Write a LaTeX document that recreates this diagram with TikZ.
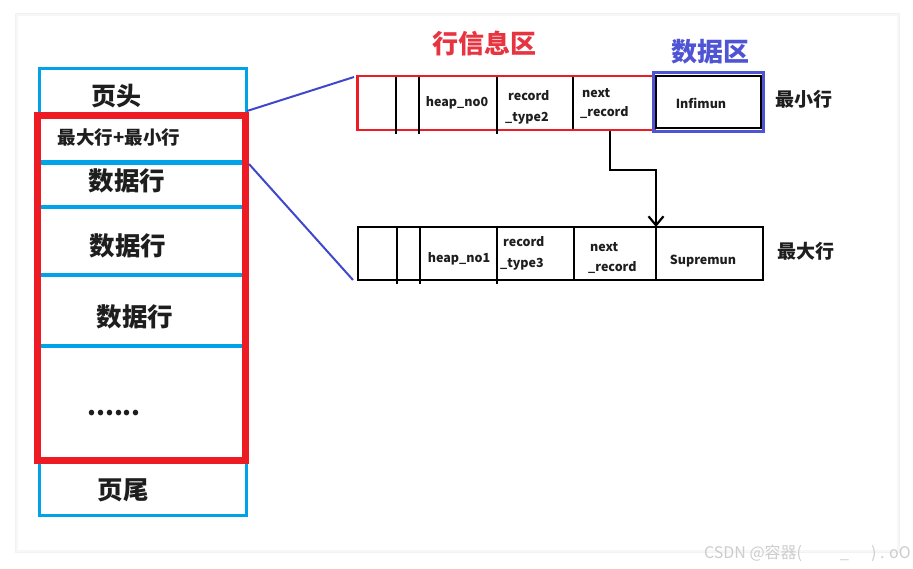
\documentclass[tikz,border=0pt]{standalone}
\usepackage{fontspec}
\setmainfont{Noto Sans CJK SC}
\usetikzlibrary{arrows.meta}
\definecolor{cyanb}{RGB}{0,162,232}
\definecolor{redb}{RGB}{237,28,36}
\definecolor{linkb}{RGB}{63,72,204}
\definecolor{titr}{RGB}{232,52,64}
\definecolor{titb}{RGB}{78,84,212}
\definecolor{ink}{RGB}{30,30,30}
\definecolor{wm}{RGB}{205,205,205}
\tikzset{
  cjkbig/.style={font=\fontsize{25.5}{26}\selectfont\bfseries, text=ink, inner sep=0pt},
  cjkmid/.style={font=\fontsize{19}{19}\selectfont\bfseries, text=ink, inner sep=0pt},
  celltxt/.style={font=\fontsize{12.5}{20}\selectfont\bfseries, text=ink, inner sep=0pt, align=left},
  sepline/.style={cyanb, line width=3.5pt},
  cellline/.style={black, line width=2pt},
  rowbox/.style={draw=black, line width=2.2pt, inner sep=0pt, outer sep=0pt},
  linkline/.style={linkb, line width=2pt},
}
\begin{document}
\begin{tikzpicture}[x=1pt,y=-1pt]
\useasboundingbox (0,0) rectangle (913,568);
\fill[white] (0,0) rectangle (913,568);
\fill[black!5] (15,13) rectangle (900,553);
\fill[black!3] (16,14) rectangle (899,552);
\fill[white] (18,16) rectangle (897,550);

% ---------- left page column ----------
\node[draw=cyanb, line width=3pt, inner sep=0pt, outer sep=0pt, minimum width=207pt, minimum height=447pt] (page) at (142.5,291.5) {};
\draw[sepline, line width=5pt] (39,162) -- (246,162);
\draw[sepline] (39,207) -- (246,207);
\draw[sepline] (39,275) -- (246,275);
\draw[sepline] (39,346) -- (246,346);
\node[draw=redb, line width=7pt, inner sep=0pt, outer sep=0pt, minimum width=208pt, minimum height=345pt] (mid) at (141,287.5) {};

\node[cjkbig, font=\fontsize{25}{25}\selectfont\bfseries] (head) at (116,96) {页头};
\node[cjkmid, font=\fontsize{18.5}{19}\selectfont\bfseries] (maxmin) at (119,137) {最大行+最小行};
\node[cjkbig] (d1) at (127,181) {数据行};
\node[cjkbig] (d2) at (128,246) {数据行};
\node[cjkbig] (d3) at (135,317) {数据行};
\node[cjkbig] (dots) at (114,413) {......};
\node[cjkbig] (tail) at (123,490) {页尾};

% ---------- titles ----------
\node[font=\fontsize{26}{26}\selectfont\bfseries, text=titr, inner sep=0pt] (t1) at (484,44) {行信息区};
\node[font=\fontsize{26}{26}\selectfont\bfseries, text=titb, inner sep=0pt] (t2) at (710,52) {数据区};

% ---------- top record (minimum row) ----------
\node[draw=redb, line width=2.2pt, inner sep=0pt, outer sep=0pt, minimum width=297pt, minimum height=54pt] (info1) at (506,103) {};
\foreach \x in {396,419,497} \draw[cellline] (\x,77) -- (\x,134);
\draw[cellline] (573,77) -- (573,129);
\node[draw=titb, line width=2.6pt, inner sep=0pt, outer sep=0pt, minimum width=110pt, minimum height=59pt] (data1) at (708.5,102) {};
\node[rowbox, minimum width=105pt, minimum height=52pt] (inf) at (708.5,102) {};
\node[celltxt] (h0) at (457,103) {heap\_no0};
\node[celltxt, anchor=west] (rt2a) at (508,96) {record};
\node[celltxt, anchor=west] (rt2b) at (505,118) {\_type2};
\node[celltxt, anchor=west] (nx1a) at (582,93) {next};
\node[celltxt, anchor=west] (nx1b) at (580,113) {\_record};
\node[celltxt] (infimun) at (701,103) {Infimun};
\node[cjkmid, anchor=west] (minrow) at (775,99) {最小行};

% ---------- bottom record (maximum row) ----------
\node[rowbox, minimum width=405pt, minimum height=53pt] (row2) at (560.5,253.5) {};
\foreach \x in {397,420,497} \draw[cellline] (\x,227) -- (\x,284);
\draw[cellline] (574,227) -- (574,280);
\node[rowbox, minimum width=107pt, minimum height=53pt] (sup) at (709.5,253.5) {};
\node[celltxt] (h1) at (459,259) {heap\_no1};
\node[celltxt, anchor=west] (rt3a) at (503,242) {record};
\node[celltxt, anchor=west] (rt3b) at (500,264) {\_type3};
\node[celltxt, anchor=west] (nx2a) at (590,247) {next};
\node[celltxt, anchor=west] (nx2b) at (588,268) {\_record};
\node[celltxt] (supremun) at (703,261) {Supremun};
\node[cjkmid, anchor=west] (maxrow) at (777,251) {最大行};

% ---------- connectors ----------
\coordinate (p1) at (247,111);
\coordinate (q1) at (354,77);
\coordinate (p2) at (249,164);
\coordinate (q2) at (353,280);
\draw[linkline] (p1) -- (q1);
\draw[linkline] (p2) -- (q2);

\coordinate (nr) at (610,131);
\coordinate (bend) at (610,170);
\draw[black, line width=2.6pt, -{Straight Barb[length=9pt, width=15pt, line width=2.2pt]}] (nr) -- (bend) -| (sup.north west);

% ---------- watermark ----------
\node[font=\fontsize{16}{16}\selectfont, text=wm, anchor=east, inner sep=0pt] (wmk) at (911,553) {CSDN @容器(\hspace{38pt}\_\hspace{22pt}) . oO};
\end{tikzpicture}
\end{document}
